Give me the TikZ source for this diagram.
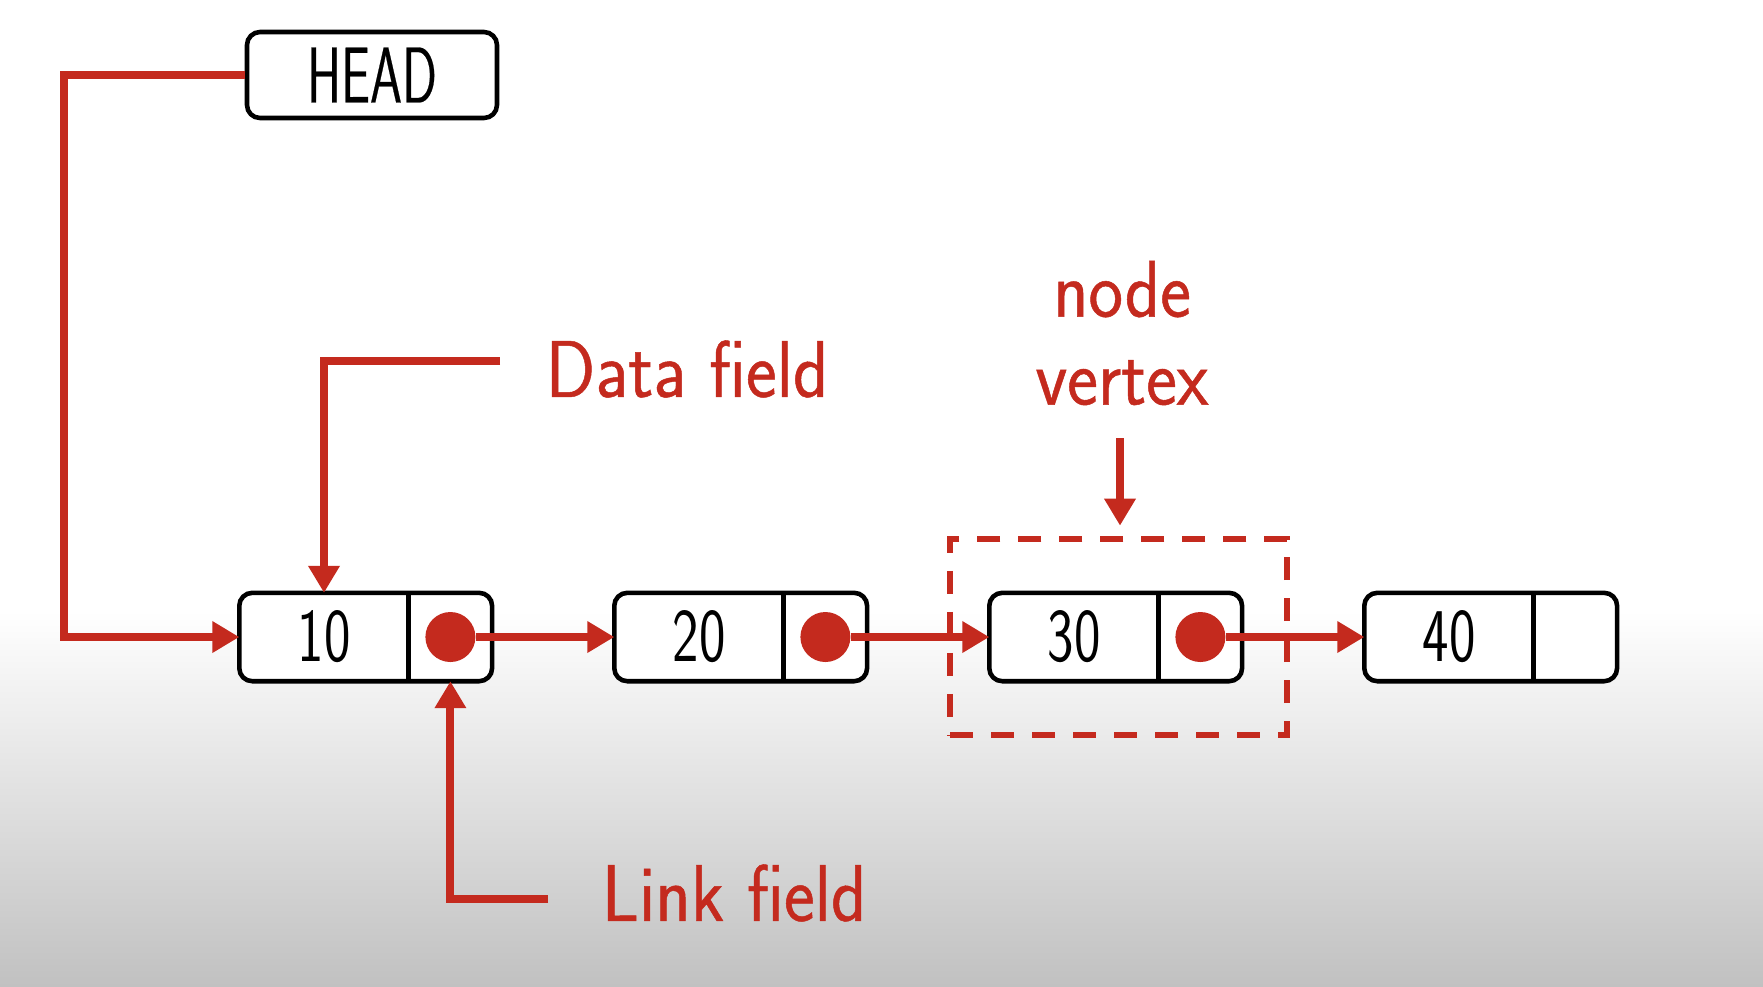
\documentclass[tikz,border=0pt]{standalone}
\usepackage{fontspec}
\setsansfont{Latin Modern Sans}
\newfontfamily\labelfont{Latin Modern Sans}[FakeStretch=0.91,FakeBold=0.6]
\newfontfamily\cellfont{Latin Modern Sans}[FakeStretch=0.74]
\newfontfamily\headfont{Latin Modern Sans}[FakeStretch=0.65,FakeBold=0.3]
\usepackage{tikz}
\usetikzlibrary{arrows.meta,positioning,fit}
\definecolor{linkred}{RGB}{196,42,30}
\definecolor{bggray}{RGB}{193,193,193}

\begin{document}
\begin{tikzpicture}[
  cellbox/.style={draw=black,line width=1.3pt,rounded corners=0.13cm},
  datapart/.style={minimum width=1.68cm,minimum height=0.87cm,inner sep=0pt},
  linkpart/.style={minimum width=0.82cm,minimum height=0.87cm,inner sep=0pt},
  cellnum/.style={inner sep=0pt,font=\cellfont\fontsize{21.6}{24}\selectfont},
  link/.style={draw=linkred,line width=2.3pt,-{Triangle[length=0.27cm,width=0.3cm]}},
  dot/.style={circle,fill=linkred,inner sep=0pt,minimum size=0.5cm},
  tag/.style={text=linkred,inner sep=0pt,font=\labelfont\fontsize{22.9}{25}\selectfont},
  groupbox/.style={draw=linkred,line width=1.8pt,dash pattern=on 0.23cm off 0.18cm,
    inner xsep=0.42cm,inner ysep=0.54cm}
 ]
 % background
 \fill[white] (0,0) rectangle (17.63,-9.86);
 \shade[top color=white,bottom color=bggray] (0,-6.1) rectangle (17.63,-9.86);
 \useasboundingbox (0,0) rectangle (17.63,-9.86);

 \node[cellbox,fill=white,minimum width=2.5cm,minimum height=0.86cm,
   font=\headfont\fontsize{22.5}{24}\selectfont] (head) at (3.72,-0.75) {HEAD};

 % list cells
 \foreach \i/\val in {1/10,2/20,3/30,4/40}{
   \node[datapart] (d\i) at ({3.24+3.75*(\i-1)},-6.37) {};
   \node[linkpart,right=0pt of d\i] (p\i) {};
   \draw[cellbox,fill=white] (d\i.north west) rectangle (p\i.south east);
   \draw[cellbox] (d\i.north east) -- (d\i.south east);
   \node[cellnum] (v\i) at (d\i) {\val};
 }
 \foreach \i in {1,2,3} \node[dot] (c\i) at (p\i) {};
 \foreach \i/\j in {1/2,2/3,3/4} \draw[link] (c\i) -- (d\j.west);

 % head pointer
 \coordinate (hbend) at (0.64,-0.75);
 \draw[link] (head.west) -- (hbend) |- (d1.west);

 % data field
 \node[tag,anchor=west] (dlab) at (5.45,-3.69) {Data field};
 \coordinate (dstart) at (5.00,-3.61);
 \draw[link] (dstart) -| (d1.north);

 % link field
 \node[tag,anchor=west] (llab) at (6.01,-8.93) {Link field};
 \coordinate (lstart) at (5.48,-8.99);
 \draw[link] (lstart) -| (p1.south);

 % node / vertex
 \node[groupbox,fit=(d3)(p3),xshift=0.03cm] (grp) {};
 \node[tag,align=center] (vlab) at (11.22,-3.33) {node\\vertex};
 \coordinate (vstart) at (11.20,-4.38);
 \draw[link] (vstart) -- ([yshift=0.1cm]vstart |- grp.north);
\end{tikzpicture}
\end{document}
